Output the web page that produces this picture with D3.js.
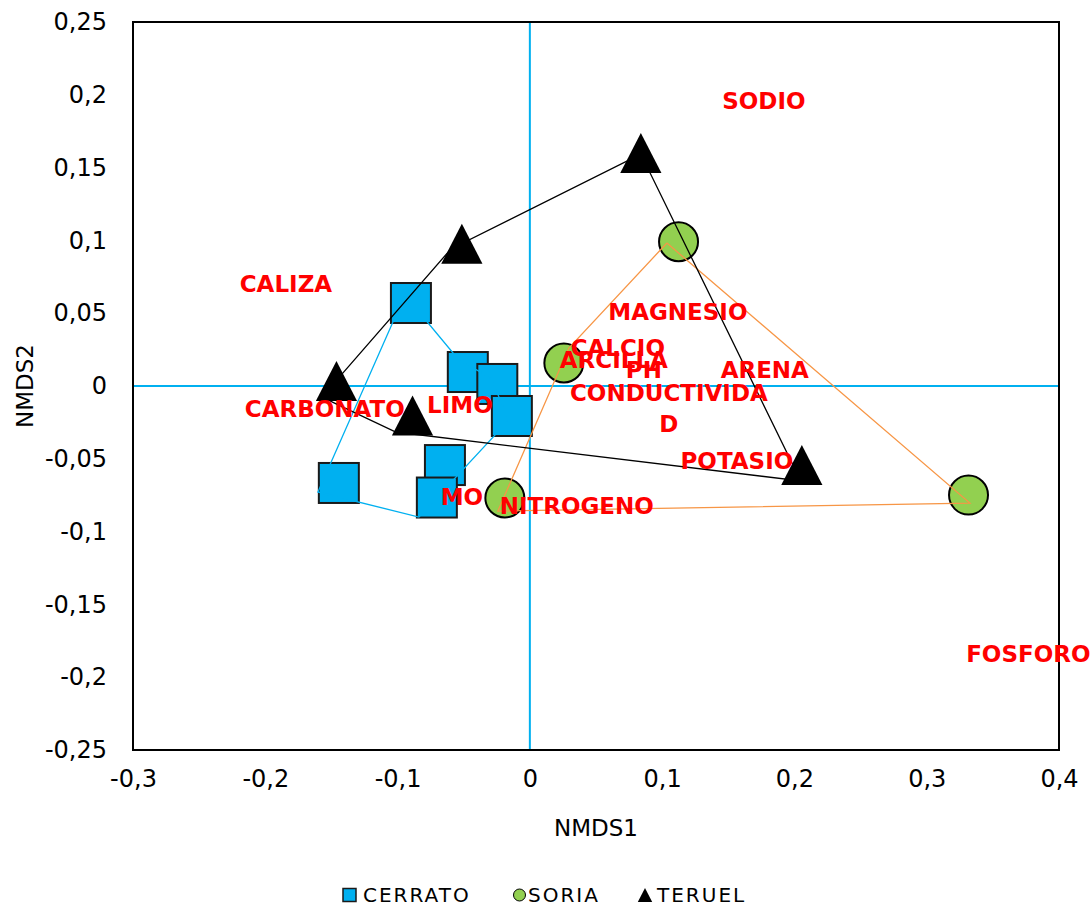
<!DOCTYPE html>
<html>
<head>
<meta charset="utf-8">
<script src="https://cdn.jsdelivr.net/npm/d3@7"></script>
<style>
  body { margin: 0; background: #fff; }
  text { font-family: "DejaVu Sans", sans-serif; }
</style>
</head>
<body>
<svg id="chart"></svg>
<script>
// Sample scores (NMDS1, NMDS2)
const cerratoX = [-0.0899, -0.0469, -0.0246, -0.0136, -0.0642, -0.0703, -0.1444];
const cerratoY = [0.0570, 0.0096, 0.0014, -0.0206, -0.0543, -0.0766, -0.0666];
const soriaX = [0.1124, 0.0257, -0.0189, 0.3316];
const soriaY = [0.0991, 0.0158, -0.0769, -0.0749];
const teruelX = [-0.1462, -0.0514, 0.0839, 0.2056, -0.0887];
const teruelY = [0.0034, 0.0977, 0.1600, -0.0543, -0.0203];

// Hull polygons around each group
const cerratoHullX = [-0.0945, -0.1602, -0.0839, -0.0159, -0.0295, -0.0537];
const cerratoHullY = [0.0625, -0.0728, -0.0900, -0.0234, 0.0055, 0.0179];
const soriaHullX = [0.1036, 0.3326, -0.0242, 0.0295];
const soriaHullY = [0.0982, -0.0804, -0.0859, 0.0261];
const teruelHullX = [-0.1572, -0.0597, 0.0839, 0.2048, -0.1013];
const teruelHullY = [-0.0076, 0.0941, 0.1593, -0.0652, -0.0316];

// Environmental variables
const varNames = ["SODIO", "CALIZA", "CARBONATO", "LIMO", "MO", "NITROGENO", "MAGNESIO",
  "CALCIO", "ARCILLA", "PH", "ARENA", "CONDUCTIVIDAD", "POTASIO", "FOSFORO"];
const varX = [0.1769, -0.1844, -0.1550, -0.0529, -0.0514, 0.0355, 0.1119,
  0.0665, 0.0635, 0.0862, 0.1776, 0.1051, 0.1565, 0.3768];
const varY = [0.1957, 0.0701, -0.0155, -0.0130, -0.0762, -0.0824, 0.0508,
  0.0261, 0.0179, 0.0110, 0.0110, -0.0148, -0.0515, -0.1841];

const xTicks = [-0.3, -0.2, -0.1, 0, 0.1, 0.2, 0.3, 0.4];
const yTicks = [-0.25, -0.2, -0.15, -0.1, -0.05, 0, 0.05, 0.1, 0.15, 0.2, 0.25];
const seriesNames = ["CERRATO", "SORIA", "TERUEL"];

const width = 1091, height = 909;
const plotLeft = 133, plotRight = 1059, plotTop = 22, plotBottom = 750;

const svg = d3.select("#chart")
    .attr("width", width)
    .attr("height", height);

const x = d3.scaleLinear().domain([-0.3, 0.4]).range([plotLeft, plotRight]);
const y = d3.scaleLinear().domain([-0.25, 0.25]).range([plotBottom, plotTop]);

const locale = d3.formatLocale({decimal: ",", thousands: ".", grouping: [3], currency: ["", ""], minus: "-"});
const fmt = v => v === 0 ? "0" : locale.format("~g")(v);

// zero lines
svg.append("line")
    .attr("x1", x(0)).attr("x2", x(0))
    .attr("y1", plotTop).attr("y2", plotBottom)
    .attr("stroke", "#00B0F0").attr("stroke-width", 2);
svg.append("line")
    .attr("x1", plotLeft).attr("x2", plotRight)
    .attr("y1", y(0)).attr("y2", y(0))
    .attr("stroke", "#00B0F0").attr("stroke-width", 2);

// frame
svg.append("rect")
    .attr("x", plotLeft).attr("y", plotTop)
    .attr("width", plotRight - plotLeft).attr("height", plotBottom - plotTop)
    .attr("fill", "none").attr("stroke", "#000").attr("stroke-width", 2);

// axes
const xAxis = svg.append("g")
    .attr("transform", `translate(0, ${plotBottom})`)
    .call(d3.axisBottom(x).tickValues(xTicks).tickSize(0).tickPadding(20).tickFormat(fmt));
const yAxis = svg.append("g")
    .attr("transform", `translate(${plotLeft}, 0)`)
    .call(d3.axisLeft(y).tickValues(yTicks).tickSize(0).tickPadding(26).tickFormat(fmt));
[xAxis, yAxis].forEach(g => {
    g.select(".domain").remove();
    g.selectAll("text")
        .attr("font-family", "DejaVu Sans")
        .attr("font-size", 24)
        .attr("fill", "#000");
});

svg.append("text")
    .attr("x", (plotLeft + plotRight) / 2).attr("y", 836)
    .attr("text-anchor", "middle")
    .attr("font-size", 23)
    .text("NMDS1");
svg.append("text")
    .attr("transform", `translate(33, ${(plotTop + plotBottom) / 2}) rotate(-90)`)
    .attr("text-anchor", "middle")
    .attr("font-size", 23)
    .text("NMDS2");

// markers
const cerrato = cerratoX.map((v, i) => [v, cerratoY[i]]);
const soria = soriaX.map((v, i) => [v, soriaY[i]]);
const teruel = teruelX.map((v, i) => [v, teruelY[i]]);

svg.selectAll(".sq")
    .data(cerrato)
    .enter()
    .append("rect")
    .attr("class", "sq")
    .attr("x", d => x(d[0]) - 20)
    .attr("y", d => y(d[1]) - 20)
    .attr("width", 40)
    .attr("height", 40)
    .attr("fill", "#00B0F0")
    .attr("stroke", "#1a1a1a")
    .attr("stroke-width", 2);

svg.selectAll(".dot")
    .data(soria)
    .enter()
    .append("circle")
    .attr("class", "dot")
    .attr("cx", d => x(d[0]))
    .attr("cy", d => y(d[1]))
    .attr("r", 19.5)
    .attr("fill", "#92D050")
    .attr("stroke", "#000")
    .attr("stroke-width", 2);

const tri = (cx, cy, s) => `M${cx},${cy - s} L${cx + s * 1.03},${cy + s} L${cx - s * 1.03},${cy + s} Z`;
svg.selectAll(".tri")
    .data(teruel)
    .enter()
    .append("path")
    .attr("class", "tri")
    .attr("d", d => tri(x(d[0]), y(d[1]), 20))
    .attr("fill", "#000");

// hulls
const hulls = [
    {xs: cerratoHullX, ys: cerratoHullY, color: "#00B0F0"},
    {xs: soriaHullX, ys: soriaHullY, color: "#F79646"},
    {xs: teruelHullX, ys: teruelHullY, color: "#000"}
];
const line = d3.line().x(d => x(d[0])).y(d => y(d[1]));
hulls.forEach(h => {
    const pts = h.xs.map((v, i) => [v, h.ys[i]]);
    pts.push(pts[0]);
    svg.append("path")
        .attr("d", line(pts))
        .attr("fill", "none")
        .attr("stroke", h.color)
        .attr("stroke-width", 1.3);
});

// variable labels (overlaps near the origin are as in the original)
varNames.forEach((name, i) => {
    const t = svg.append("text")
        .attr("x", x(varX[i]))
        .attr("y", y(varY[i]))
        .attr("text-anchor", "middle")
        .attr("font-size", 23)
        .attr("font-weight", "bold")
        .attr("fill", "#FF0000");
    if (name === "CONDUCTIVIDAD") {
        t.append("tspan").attr("x", x(varX[i])).attr("dy", "-0.3em").text("CONDUCTIVIDA");
        t.append("tspan").attr("x", x(varX[i])).attr("dy", "1.35em").text("D");
    } else {
        t.attr("dy", "0.36em").text(name);
    }
});

// legend
const legend = svg.append("g").attr("transform", "translate(0, 895)");
const legendX = [343, 513, 638];
seriesNames.forEach((name, i) => {
    const g = legend.append("g").attr("transform", `translate(${legendX[i]}, 0)`);
    if (i === 0) {
        g.append("rect").attr("x", 0).attr("y", -6.5).attr("width", 13).attr("height", 13)
            .attr("fill", "#00B0F0").attr("stroke", "#1a1a1a").attr("stroke-width", 1.5);
    } else if (i === 1) {
        g.append("circle").attr("cx", 6.5).attr("cy", 0).attr("r", 6)
            .attr("fill", "#92D050").attr("stroke", "#000").attr("stroke-width", 1);
    } else {
        g.append("path").attr("d", tri(7, 0, 7)).attr("fill", "#000");
    }
    g.append("text")
        .attr("x", i === 0 ? 20 : (i === 1 ? 15 : 19))
        .attr("y", 0)
        .attr("dy", "0.36em")
        .attr("font-size", 20)
        .attr("letter-spacing", 2)
        .text(name);
});
</script>
</body>
</html>
